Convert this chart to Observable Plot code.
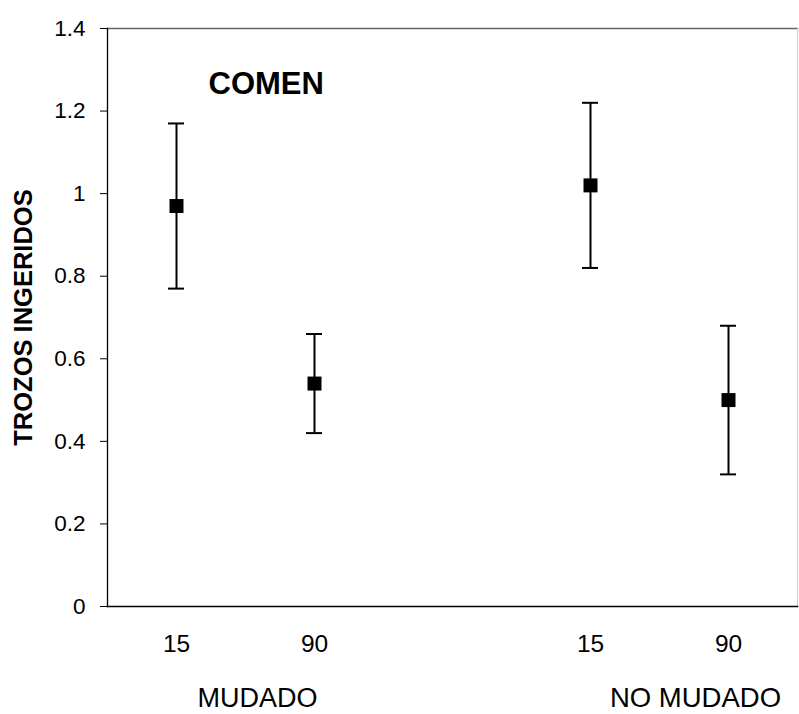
<!DOCTYPE html>
<html>
<head>
<meta charset="utf-8">
<script src="https://cdn.jsdelivr.net/npm/d3@7"></script>
<script src="https://cdn.jsdelivr.net/npm/@observablehq/plot@0.6"></script>
<style>
  html, body { margin: 0; padding: 0; background: #fff; }
  #chart svg { display: block; }
</style>
</head>
<body>
<div id="chart"></div>
<script>
// Categories (with an empty gap slot between the two groups)
const slots = ["M15", "M90", "gap", "N15", "N90"];
const slotLabels = ["15", "90", "", "15", "90"];
const groups = ["MUDADO", "MUDADO", "NO MUDADO", "NO MUDADO"];
const pointSlots = ["M15", "M90", "N15", "N90"];
const means = [0.97, 0.54, 1.02, 0.50];
const lows = [0.77, 0.42, 0.82, 0.32];
const highs = [1.17, 0.66, 1.22, 0.68];
const yTicks = [0, 0.2, 0.4, 0.6, 0.8, 1, 1.2, 1.4];
const yLabels = ["0", "0.2", "0.4", "0.6", "0.8", "1", "1.2", "1.4"];
const panelTitle = "COMEN";
const yTitle = "TROZOS INGERIDOS";

const data = pointSlots.map((s, i) => ({slot: s, group: groups[i], mean: means[i], lo: lows[i], hi: highs[i]}));
const labelOf = new Map(slots.map((s, i) => [s, slotLabels[i]]));
const yLabelOf = new Map(yTicks.map((t, i) => [t, yLabels[i]]));

const font = "'Liberation Sans', Arial, sans-serif";

const chart = Plot.plot({
  width: 799,
  height: 714,
  marginLeft: 107,
  marginRight: 2,
  marginTop: 28,
  marginBottom: 108,
  style: {fontFamily: font, color: "#000", background: "#fff", overflow: "visible"},
  x: {type: "band", domain: slots, padding: 0},
  y: {domain: [0, 1.4]},
  marks: [
    Plot.frame({anchor: "top", stroke: "#666", strokeWidth: 1.5, strokeDasharray: "6,1"}),
    Plot.frame({anchor: "right", stroke: "#ccc"}),
    Plot.frame({anchor: "left", stroke: "#000", strokeWidth: 1.3}),
    Plot.frame({anchor: "bottom", stroke: "#000", strokeWidth: 1.5}),
    Plot.axisY({ticks: yTicks, tickSize: 7, tickPadding: 15, fontSize: 22.5, label: null,
      tickFormat: d => yLabelOf.get(d)}),
    Plot.axisX({ticks: pointSlots, tickSize: 0, tickPadding: 28, fontSize: 24.5, label: null,
      tickFormat: d => labelOf.get(d)}),
    Plot.ruleX(data, {x: "slot", y1: "lo", y2: "hi", stroke: "#000", strokeWidth: 2}),
    Plot.tickY(data, {x: "slot", y: "hi", stroke: "#000", strokeWidth: 2, insetLeft: 61, insetRight: 61}),
    Plot.tickY(data, {x: "slot", y: "lo", stroke: "#000", strokeWidth: 2, insetLeft: 61, insetRight: 61}),
    Plot.dot(data, {x: "slot", y: "mean", symbol: "square", r: 7.9, fill: "#000", stroke: "none"}),
    Plot.text([panelTitle], {frameAnchor: "top-left", text: d => d, dx: 101, dy: 56,
      textAnchor: "start", lineAnchor: "middle", fontSize: 31, fontWeight: "bold"}),
    Plot.text([yTitle], {frameAnchor: "left", text: d => d, dx: -84, rotate: -90,
      textAnchor: "middle", lineAnchor: "middle", fontSize: 25.5, fontWeight: "bold"}),
    Plot.text(["MUDADO"], {x: () => "M90", y: () => 0, text: d => d, dx: -57, dy: 92,
      fontSize: 27, lineAnchor: "middle", clip: false}),
    Plot.text(["NO MUDADO"], {x: () => "N90", y: () => 0, text: d => d, dx: -33, dy: 92,
      fontSize: 27.5, lineAnchor: "middle", clip: false})
  ]
});
document.getElementById("chart").append(chart);
</script>
</body>
</html>
